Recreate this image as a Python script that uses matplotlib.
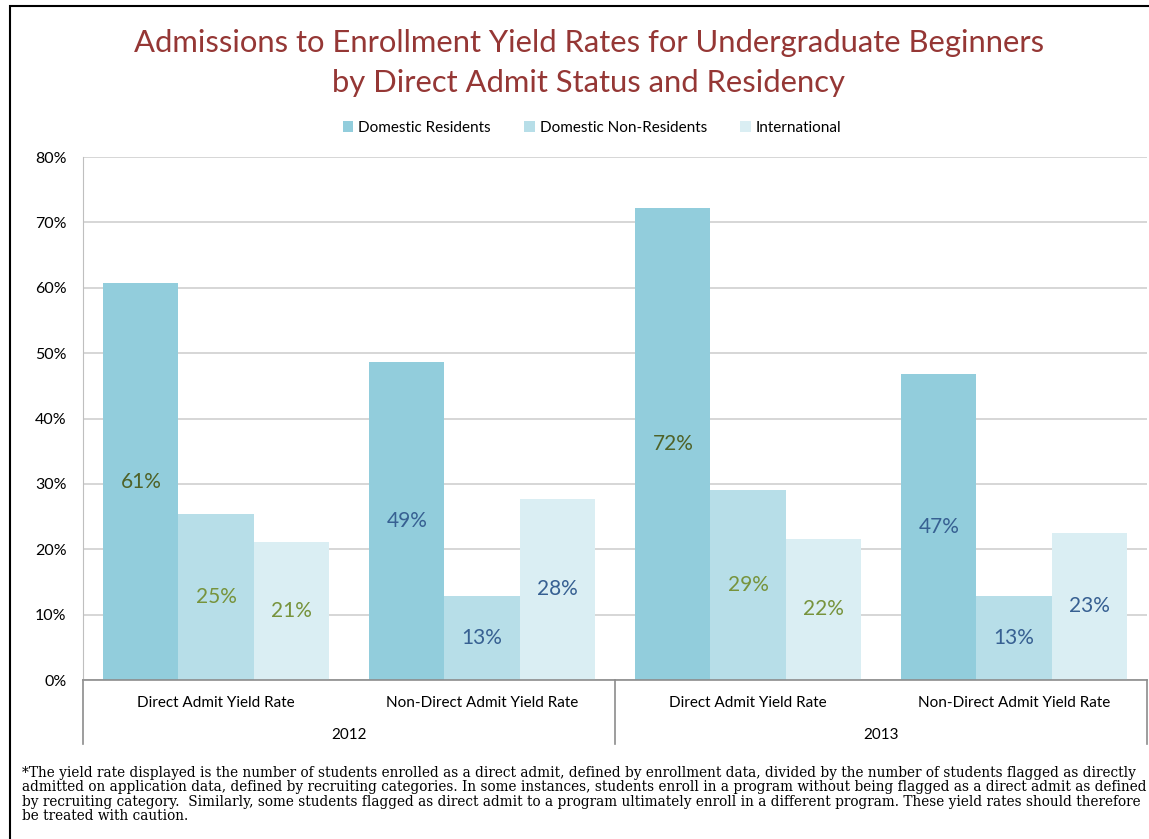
import matplotlib
matplotlib.use("Agg")
import matplotlib.pyplot as plt
import matplotlib.transforms as mtransforms
from matplotlib.patches import Rectangle
import numpy as np

# data
categories = ["Direct Admit Yield Rate", "Non-Direct Admit Yield Rate",
              "Direct Admit Yield Rate", "Non-Direct Admit Yield Rate"]
years = ["2012", "2013"]
series_names = ["Domestic Residents", "Domestic Non-Residents", "International"]
domestic_residents = [60.7, 48.6, 72.2, 46.8]
domestic_non_residents = [25.4, 12.8, 29.1, 12.8]
international = [21.1, 27.7, 21.6, 22.5]
label_texts = [
    ["61%", "49%", "72%", "47%"],
    ["25%", "13%", "29%", "13%"],
    ["21%", "28%", "22%", "23%"],
]
footnote_lines = [
    "*The yield rate displayed is the number of students enrolled as a direct admit, defined by enrollment data, divided by the number of students flagged as directly",
    "admitted on application data, defined by recruiting categories. In some instances, students enroll in a program without being flagged as a direct admit as defined",
    "by recruiting category.  Similarly, some students flagged as direct admit to a program ultimately enroll in a different program. These yield rates should therefore",
    "be treated with caution.",
]

BAR_COLORS = ["#92CDDC", "#B7DEE8", "#DAEEF3"]
GREEN_DARK = "#4F6228"
GREEN = "#77933C"
BLUE = "#376092"
label_colors = [
    [GREEN_DARK, BLUE, GREEN_DARK, BLUE],
    [GREEN, BLUE, GREEN, BLUE],
    [GREEN, BLUE, GREEN, BLUE],
]

SANS = ["Lato", "DejaVu Sans"]
plt.rcParams["font.family"] = SANS

W, H = 1149, 839
fig = plt.figure(figsize=(W / 100, H / 100), dpi=100)
ax = fig.add_axes([83 / W, 1 - 680 / H, (1147 - 83) / W, (680 - 157) / H])

x = np.arange(len(categories))
bw = 0.282
all_series = [domestic_residents, domestic_non_residents, international]
for i, (vals, name) in enumerate(zip(all_series, series_names)):
    pos = x + (i - 1) * bw
    ax.bar(pos, vals, bw, color=BAR_COLORS[i], label=name, zorder=2, linewidth=0)
    for j, v in enumerate(vals):
        ax.text(pos[j], v / 2, label_texts[i][j], ha="center", va="center",
                fontsize=15, color=label_colors[i][j], zorder=3)

ax.set_xlim(-0.5, len(categories) - 0.5)
ax.set_ylim(0, 80)
ax.set_yticks(np.arange(0, 81, 10))
ax.set_yticklabels([f"{t}%" for t in range(0, 81, 10)])
ax.tick_params(axis="y", length=0, pad=12, labelsize=11.5)
ax.set_xticks([])
ax.grid(axis="y", color="#D0D0D0", linewidth=1.2, zorder=0)
ax.set_axisbelow(True)
for s in ["top", "right"]:
    ax.spines[s].set_visible(False)
ax.spines["left"].set_color("#BFBFBF")
ax.spines["bottom"].set_color("#8C8C8C")
ax.spines["bottom"].set_linewidth(1.2)

# two-level category axis
trans = mtransforms.blended_transform_factory(ax.transData, ax.transAxes)
ah = 680 - 157
for j, c in enumerate(categories):
    ax.text(x[j], -23 / ah, c, transform=trans, ha="center", va="center", fontsize=11)
for k, yr in enumerate(years):
    ax.text(x[2 * k] + 0.5, -55 / ah, yr, transform=trans, ha="center", va="center", fontsize=11)
for sx in [-0.5, 1.5, 3.5]:
    ax.plot([sx, sx], [0, -64 / ah], transform=trans, color="#8C8C8C",
            linewidth=1.2, clip_on=False)

fig.text(589 / W, 1 - 43 / H, "Admissions to Enrollment Yield Rates for Undergraduate Beginners",
         ha="center", va="center", fontsize=22.3, color="#953735")
fig.text(589 / W, 1 - 83 / H, "by Direct Admit Status and Residency",
         ha="center", va="center", fontsize=22.3, color="#953735")

fig.legend(loc="center", bbox_to_anchor=(592 / W, 1 - 128 / H), ncol=3, frameon=False,
           fontsize=11, handlelength=0.7, handleheight=0.7, handletextpad=0.3,
           columnspacing=2.2)

for n, line in enumerate(footnote_lines):
    fig.text(22 / W, 1 - (773 + n * 14.3) / H, line, ha="left", va="center",
             fontsize=9.8, family="DejaVu Serif")

fig.patches.append(Rectangle((10 / W, -0.05), 1.2, 1 - 6 / H + 0.05,
                             transform=fig.transFigure, fill=False,
                             edgecolor="black", linewidth=1.5))

fig.savefig("out.png", dpi=100)
